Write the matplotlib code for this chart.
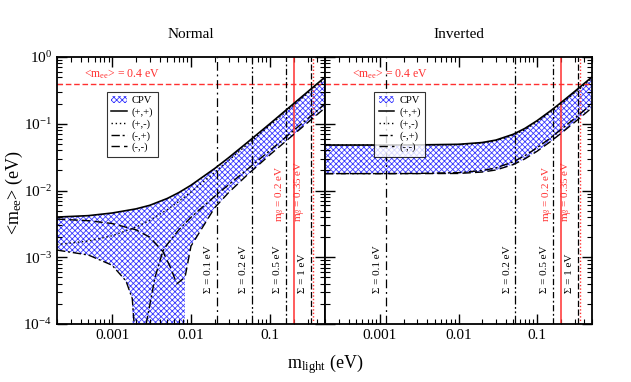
import numpy as np
import matplotlib
matplotlib.use('Agg')
import matplotlib.pyplot as plt
from matplotlib.patches import Patch
from matplotlib.lines import Line2D

plt.rcParams['font.family'] = 'Liberation Serif'
plt.rcParams['mathtext.fontset'] = 'custom'
plt.rcParams['mathtext.rm'] = 'Liberation Serif'
plt.rcParams['mathtext.it'] = 'Liberation Serif:italic'
plt.rcParams['hatch.linewidth'] = 0.6

# ---- Normal hierarchy ----
m_nh = [2e-4, 5e-4, 1e-3, 2e-3, 3e-3, 5e-3, 7e-3, 0.01, 0.02, 0.03, 0.05, 0.1, 0.2, 0.3, 0.5]
pp_nh = [4.0e-3, 4.2e-3, 4.6e-3, 5.3e-3, 6.0e-3, 7.6e-3, 9.3e-3, 0.012, 0.0214, 0.031, 0.0507, 0.100, 0.200, 0.300, 0.500]
pm_nh = [1.55e-3, 1.75e-3, 2.1e-3, 2.82e-3, 3.58e-3, 5.17e-3, 6.85e-3, 9.5e-3, 0.0187, 0.0282, 0.0472, 0.0948, 0.190, 0.285, 0.475]

m_mp_nh = [2e-4, 5e-4, 1e-3, 1.5e-3, 1.8e-3, 1.9e-3, np.nan, 2.7e-3, 3.5e-3, 4.4e-3, 5e-3, 7e-3, 0.01, 0.02, 0.03, 0.05, 0.1, 0.2, 0.3, 0.5]
mp_nh = [1.28e-3, 1.08e-3, 7.6e-4, 4.4e-4, 2.4e-4, 1e-4, np.nan, 1e-4, 5e-4, 1.24e-3, 1.56e-3, 2.57e-3, 3.97e-3, 8.2e-3, 0.0122, 0.0200, 0.0397, 0.0792, 0.1187, 0.1978]

m_mm_nh = [2e-4, 5e-4, 1e-3, 2e-3, 3e-3, 4.4e-3, 5.5e-3, 6.6e-3, 8.4e-3, 0.01, 0.02, 0.03, 0.05, 0.1, 0.2, 0.3, 0.5]
mm_nh = [3.73e-3, 3.53e-3, 3.2e-3, 2.58e-3, 2.0e-3, 1.22e-3, 7e-4, 4e-4, 5e-4, 1.47e-3, 5.54e-3, 9.3e-3, 0.0165, 0.0342, 0.0689, 0.1035, 0.1727]

# lower edge of the CPV region (normal)
m_lo_nh = [2e-4, 5e-4, 1e-3, 1.5e-3, 1.8e-3, 1.9e-3, 8.3e-3, 8.4e-3, 0.01, 0.02, 0.03, 0.05, 0.1, 0.2, 0.3, 0.5]
lo_nh = [1.28e-3, 1.08e-3, 7.6e-4, 4.4e-4, 2.4e-4, 1e-6, 1e-6, 5e-4, 1.47e-3, 5.54e-3, 9.3e-3, 0.0165, 0.0342, 0.0689, 0.1035, 0.1727]

# ---- Inverted hierarchy ----
m_ih = [2e-4, 1e-3, 3e-3, 0.01, 0.02, 0.03, 0.05, 0.07, 0.1, 0.15, 0.2, 0.3, 0.5]
pp_ih = [0.0480, 0.0480, 0.0482, 0.0492, 0.0523, 0.0570, 0.0697, 0.0852, 0.1112, 0.1577, 0.2058, 0.3039, 0.5024]
pm_ih = [0.0480, 0.0480, 0.0480, 0.0487, 0.0513, 0.0555, 0.0672, 0.0817, 0.1062, 0.1502, 0.1958, 0.2889, 0.4774]
mp_ih = [0.0179, 0.0179, 0.0180, 0.0185, 0.0199, 0.0218, 0.0270, 0.0333, 0.0437, 0.0621, 0.0812, 0.1201, 0.1986]
mm_ih = [0.0179, 0.0179, 0.0179, 0.0180, 0.0189, 0.0203, 0.0245, 0.0298, 0.0387, 0.0546, 0.0712, 0.1051, 0.1736]

# vertical reference lines
sigma_labels = ['0.1', '0.2', '0.5', '1']
sigma_nh = [0.0213, 0.059, 0.16, 0.33]
sigma_ih = [0.0012, 0.053, 0.16, 0.33]
sigma_styles = [(0, (7, 3, 1.5, 3)), (0, (7, 2, 1.5, 2, 1.5, 2)), (0, (5, 2, 1.5, 2)), (0, (5, 2))]
mbeta = [0.2, 0.35]
mbeta_labels = ['0.2', '0.35']
mee_limit = 0.4

BLUE = '#3a3aff'
RED = '#ff3030'
HATCH = 'xxxxxx'

fig = plt.figure(figsize=(6.31, 3.82), dpi=100)
ax1 = fig.add_axes([57/631, 1-324/382, 268/631, 267/382])
ax2 = fig.add_axes([325/631, 1-324/382, 267/631, 267/382])

def panel(ax, mpp, pp, pm, m_mp, mp, m_mm, mm, m_lo, lo, sig, title):
    poly_x = list(mpp) + list(m_lo)[::-1]
    poly_y = list(pp) + list(lo)[::-1]
    ax.fill(poly_x, poly_y, facecolor='white', edgecolor=BLUE, hatch=HATCH, lw=0, zorder=1)
    ax.plot(mpp, pp, color='black', lw=1.2, zorder=3)
    ax.plot(mpp, pm, color='black', lw=1.0, ls=(0, (1, 2)), zorder=3)
    ax.plot(m_mp, mp, color='black', lw=1.0, ls=(0, (6, 2, 1.5, 2)), zorder=3)
    ax.plot(m_mm, mm, color='black', lw=1.0, ls=(0, (6, 3)), zorder=3)

    ax.axhline(mee_limit, color=RED, lw=1.0, ls=(0, (4, 2)), zorder=2)
    for v, s, lab in zip(sig, sigma_styles, sigma_labels):
        ax.axvline(v, color='black', lw=0.9, ls=s, zorder=2)
        ax.text(v / 1.27, 2.9e-4, '\u03a3 = ' + lab + ' eV', rotation=90, ha='center', va='bottom', fontsize=8)
    ax.axvline(mbeta[0], color=RED, lw=1.1, zorder=2)
    ax.axvline(mbeta[1], color=RED, lw=1.0, ls=(0, (1, 1.5)), zorder=2)
    for v, lab in zip(mbeta, mbeta_labels):
        ax.text(v / 1.42, 3.4e-3, r'm$_\beta$ = ' + lab + ' eV', rotation=90, ha='center', va='bottom',
                fontsize=8, color=RED)
    ax.text(4.4e-4, 0.44, r'<m$_{\mathrm{ee}}$> = 0.4 eV', color=RED, fontsize=8.5, va='bottom')

    ax.set_xscale('log')
    ax.set_yscale('log')
    ax.set_xlim(2e-4, 0.5)
    ax.set_ylim(1e-4, 1)
    ax.set_title(title, fontsize=11, pad=14)
    ax.tick_params(which='both', direction='in', top=True, right=True, labelsize=11)
    ax.tick_params(which='major', length=7, width=1)
    ax.tick_params(which='minor', length=3.5, width=0.8)
    ax.set_xticks([1e-3, 1e-2, 1e-1])
    ax.set_xticklabels(['0.001', '0.01', '0.1'])
    for sp in ax.spines.values():
        sp.set_linewidth(1.3)

    handles = [Patch(facecolor='white', edgecolor=BLUE, lw=0, hatch=HATCH, label='CPV'),
               Line2D([], [], color='black', lw=1.1, label='(+,+)'),
               Line2D([], [], color='black', lw=1.0, ls=(0, (1, 2)), label='(+,-)'),
               Line2D([], [], color='black', lw=1.0, ls=(0, (6, 2, 1.5, 2)), label='(-,+)'),
               Line2D([], [], color='black', lw=1.0, ls=(0, (6, 3)), label='(-,-)')]
    leg = ax.legend(handles=handles, loc='upper left', bbox_to_anchor=(0.185, 0.87), fontsize=7.6,
                    frameon=True, fancybox=False, edgecolor='black', handlelength=1.5,
                    handletextpad=0.5, borderpad=0.4, labelspacing=0.2, borderaxespad=0)
    leg.get_frame().set_linewidth(0.8)
    leg.set_zorder(5)

panel(ax1, m_nh, pp_nh, pm_nh, m_mp_nh, mp_nh, m_mm_nh, mm_nh, m_lo_nh, lo_nh, sigma_nh, 'Normal')
panel(ax2, m_ih, pp_ih, pm_ih, m_ih, mp_ih, m_ih, mm_ih, m_ih, mm_ih, sigma_ih, 'Inverted')

ax1.set_yticks([1e-4, 1e-3, 1e-2, 1e-1, 1])
ax1.set_yticklabels([r'$10^{-4}$', r'$10^{-3}$', r'$10^{-2}$', r'$10^{-1}$', r'$10^{0}$'])
ax2.tick_params(labelleft=False)
fig.text(14/631, 1 - 193/382, r'<m$_{\mathrm{ee}}$> (eV)', rotation=90, ha='center', va='center', fontsize=13)
fig.text(325/631, 0.035, r'm$_{\mathrm{light}}$ (eV)', ha='center', fontsize=13)

fig.savefig('out.png', dpi=100)
